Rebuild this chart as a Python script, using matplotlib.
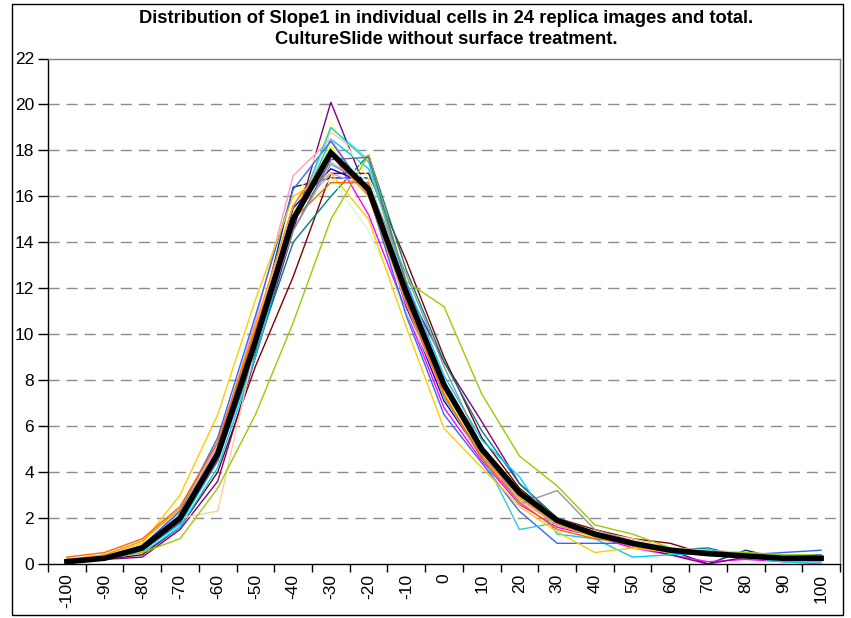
import matplotlib
matplotlib.use("Agg")
import matplotlib.pyplot as plt
from matplotlib.patches import Rectangle

plt.rcParams['font.family'] = ['Liberation Sans', 'DejaVu Sans']
plt.rcParams['lines.scale_dashes'] = False

categories = [-100, -90, -80, -70, -60, -50, -40, -30, -20, -10, 0,
              10, 20, 30, 40, 50, 60, 70, 80, 90, 100]

title = ("Distribution of Slope1 in individual cells in 24 replica images and total.\n"
         "CultureSlide without surface treatment.")

s01 = [0.1, 0.2, 0.6, 1.8, 4.6, 9.8, 16.4, 16.8, 16.8, 11.6, 7.6, 4.8, 3.0, 1.8, 1.2, 0.8, 0.6, 0.0, 0.6, 0.2, 0.3]
s02 = [0.1, 0.3, 0.8, 2.2, 5.2, 10.2, 15.6, 18.0, 15.2, 11.0, 6.8, 4.5, 2.6, 1.6, 1.2, 0.7, 0.4, 0.1, 0.2, 0.1, 0.1]
s03 = [0.2, 0.3, 0.7, 2.1, 5.0, 10.0, 15.3, 18.2, 16.0, 11.5, 7.5, 4.9, 3.0, 1.8, 1.1, 0.9, 0.6, 0.5, 0.4, 0.3, 0.2]
s04 = [0.1, 0.2, 0.6, 1.7, 4.5, 9.5, 14.8, 19.0, 17.6, 11.9, 7.6, 4.9, 2.9, 1.7, 1.2, 0.8, 0.5, 0.4, 0.3, 0.1, 0.1]
s05 = [0.1, 0.2, 0.3, 1.5, 3.6, 9.0, 14.5, 20.1, 16.0, 12.0, 8.8, 6.2, 3.5, 2.0, 1.2, 0.8, 0.4, 0.0, 0.3, 0.3, 0.3]
s06 = [0.1, 0.2, 0.4, 1.6, 4.0, 8.6, 12.5, 17.0, 17.0, 13.2, 9.0, 5.5, 3.3, 2.0, 1.5, 1.1, 0.9, 0.4, 0.3, 0.3, 0.3]
s07 = [0.2, 0.3, 0.7, 1.9, 4.5, 9.2, 14.0, 16.0, 17.8, 12.8, 8.8, 5.8, 3.5, 2.0, 1.3, 0.9, 0.6, 0.7, 0.3, 0.2, 0.2]
s08 = [0.1, 0.2, 0.6, 1.8, 4.6, 9.6, 15.5, 17.2, 16.5, 11.2, 7.1, 4.7, 3.0, 1.8, 1.2, 0.8, 0.5, 0.4, 0.3, 0.3, 0.3]
s09 = [0.1, 0.2, 0.5, 1.6, 4.2, 9.0, 14.8, 18.5, 17.2, 12.3, 8.2, 5.4, 3.8, 1.3, 1.1, 0.3, 0.4, 0.5, 0.3, 0.1, 0.0]
s10 = [0.1, 0.2, 0.6, 1.9, 4.7, 9.8, 14.9, 18.0, 16.6, 11.7, 7.7, 5.0, 3.0, 1.9, 1.3, 0.9, 0.6, 0.5, 0.4, 0.3, 0.3]
s11 = [0.2, 0.3, 0.8, 2.2, 5.0, 10.0, 15.0, 16.8, 14.5, 11.0, 7.5, 5.0, 3.2, 2.0, 1.4, 1.0, 0.7, 0.5, 0.4, 0.3, 0.3]
s12 = [0.2, 0.3, 0.8, 2.3, 5.3, 10.3, 15.6, 19.2, 16.8, 11.6, 7.4, 4.8, 3.0, 1.8, 1.3, 0.9, 0.6, 0.5, 0.4, 0.3, 0.3]
s13 = [0.1, 0.3, 0.8, 2.3, 5.2, 10.1, 15.2, 17.5, 16.4, 11.8, 7.7, 5.0, 3.1, 1.9, 1.2, 0.9, 0.6, 0.4, 0.3, 0.2, 0.2]
s14 = [0.2, 0.3, 0.7, 2.1, 5.1, 10.6, 16.9, 18.5, 16.0, 11.3, 7.3, 4.6, 2.8, 1.7, 1.2, 0.8, 0.5, 0.4, 0.3, 0.2, 0.2]
s15 = [0.1, 0.3, 0.6, 1.9, 4.9, 9.9, 15.2, 17.0, 16.4, 11.6, 7.6, 5.0, 3.1, 1.8, 1.3, 0.9, 0.6, 0.4, 0.3, 0.3, 0.3]
s16 = [0.2, 0.3, 0.7, 2.0, 2.3, 9.5, 14.8, 18.8, 17.6, 11.6, 7.6, 5.0, 3.0, 1.9, 1.4, 1.1, 0.7, 0.6, 0.5, 0.4, 0.2]
s17 = [0.1, 0.3, 0.8, 2.3, 5.5, 10.8, 16.3, 18.4, 16.1, 10.8, 6.5, 4.4, 2.3, 0.9, 0.9, 0.9, 0.5, 0.6, 0.4, 0.5, 0.6]
s18 = [0.2, 0.3, 0.7, 2.0, 4.7, 9.5, 14.8, 19.0, 17.5, 11.9, 7.2, 4.8, 1.5, 1.8, 1.3, 1.0, 0.5, 0.6, 0.4, 0.2, 0.1]
s19 = [0.1, 0.3, 0.5, 1.1, 3.3, 6.5, 10.5, 15.0, 17.8, 12.3, 11.2, 7.4, 4.7, 3.4, 1.7, 1.3, 0.7, 0.5, 0.5, 0.4, 0.4]
s20 = [0.15, 0.4, 0.9, 3.0, 6.5, 11.5, 16.0, 17.0, 15.0, 10.3, 5.9, 4.2, 2.5, 1.4, 0.5, 0.7, 0.5, 0.4, 0.3, 0.2, 0.15]
s21 = [0.2, 0.4, 1.0, 2.4, 5.3, 10.4, 15.6, 17.8, 16.0, 11.4, 7.3, 4.7, 2.9, 1.7, 1.2, 0.8, 0.6, 0.5, 0.4, 0.3, 0.2]
s22 = [0.3, 0.5, 1.1, 2.5, 5.3, 10.2, 15.0, 16.6, 16.6, 11.4, 7.4, 4.6, 2.7, 1.5, 1.1, 0.9, 0.6, 0.5, 0.3, 0.2, 0.2]
s23 = [0.1, 0.2, 0.6, 1.8, 4.5, 9.4, 14.5, 17.6, 17.7, 12.2, 7.9, 5.1, 3.0, 1.9, 1.3, 0.9, 0.6, 0.4, 0.3, 0.3, 0.4]
s24 = [0.2, 0.3, 0.7, 1.9, 4.6, 9.6, 14.5, 17.4, 16.5, 12.6, 8.6, 5.1, 2.6, 3.2, 1.5, 1.0, 0.6, 0.4, 0.4, 0.3, 0.3]
total = [0.1, 0.25, 0.7, 2.0, 4.8, 9.7, 15.0, 17.9, 16.3, 11.8, 7.8, 5.0, 3.1, 1.9, 1.3, 0.9, 0.6, 0.45, 0.35, 0.25, 0.25]

series = [s01, s02, s03, s04, s05, s06, s07, s08, s09, s10, s11, s12,
          s13, s14, s15, s16, s17, s18, s19, s20, s21, s22, s23, s24]
colors = ['#003366', '#FF00FF', '#FFFF00', '#00FFFF', '#800080', '#800000',
          '#008080', '#0000FF', '#00CCFF', '#CCFFFF', '#CCFFCC', '#FFFF99',
          '#99CCFF', '#FF99CC', '#CC99FF', '#FFCC99', '#3366FF', '#33CCCC',
          '#99CC00', '#FFCC00', '#FF9900', '#FF6600', '#666699', '#969696']

W, H = 851, 618
fig = plt.figure(figsize=(W / 100, H / 100), dpi=100)
fig.patch.set_facecolor('white')

# outer chart border
fig.add_artist(Rectangle((12 / W, 1 - 615 / H), (843 - 12) / W, (615 - 4) / H,
                         transform=fig.transFigure, fill=False,
                         edgecolor='black', linewidth=1.0))

ax = fig.add_axes([48 / W, 1 - 564 / H, (840 - 48) / W, (564 - 58.5) / H])

x = list(range(len(categories)))
for vals, c in zip(series, colors):
    ax.plot(x, vals, color=c, linewidth=1.0, solid_joinstyle='miter')
ax.plot(x, total, color='black', linewidth=4.0, solid_joinstyle='miter', zorder=5)

ax.set_xlim(-0.5, len(categories) - 0.5)
ax.set_ylim(0, 22)
ax.set_yticks(range(0, 23, 2))
ax.tick_params(axis='y', direction='out', length=7, width=1, labelsize=12.5,
               pad=3, colors='black')
ax.set_xticks(x)
ax.set_xticklabels([str(c) for c in categories], rotation=90, fontsize=12.5)
ax.set_xticks([i - 0.5 for i in range(len(categories) + 1)], minor=True)
ax.tick_params(axis='x', which='major', length=0, pad=7)
ax.tick_params(axis='x', which='minor', direction='out', length=6, width=1)

for yv in range(2, 22, 2):
    ax.axhline(yv, color='#8c8c8c', linewidth=1.0, dashes=(8, 5), zorder=0)

for side in ['top', 'right']:
    ax.spines[side].set_color('#808080')
    ax.spines[side].set_linewidth(1.0)
for side in ['left', 'bottom']:
    ax.spines[side].set_color('black')
    ax.spines[side].set_linewidth(1.0)
ax.spines['bottom'].set_zorder(6)

fig.text(446 / W, 1 - 29 / H, title, ha='center', va='center',
         fontsize=13.2, fontweight='bold', linespacing=1.35)

fig.savefig('out.png', dpi=100)
